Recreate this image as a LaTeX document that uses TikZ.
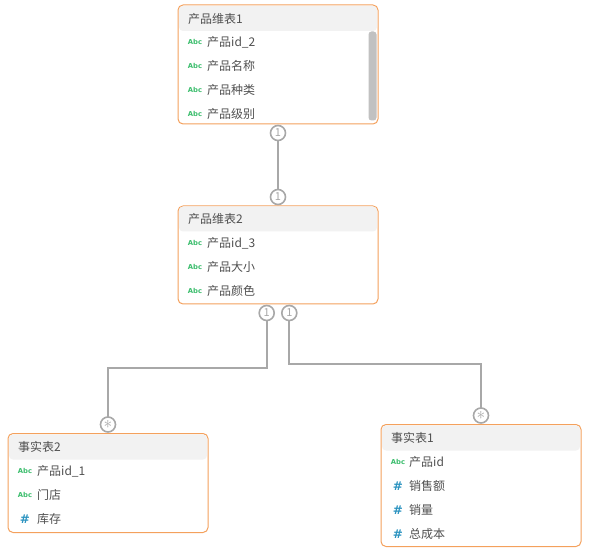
\documentclass[tikz,border=0pt]{standalone}
\usepackage{fontspec}
\setmainfont{Noto Sans CJK SC}
\newfontfamily\iconfont{DejaVu Sans}
\usetikzlibrary{positioning}
\definecolor{tblline}{HTML}{F4A15D}
\definecolor{headfill}{HTML}{F2F2F2}
\definecolor{linkgray}{HTML}{A8A8A8}
\definecolor{txtgray}{HTML}{505050}
\definecolor{abcgreen}{HTML}{3DBE6E}
\definecolor{numblue}{HTML}{2B93C0}
\definecolor{scrollgray}{HTML}{C1C1C1}
\newcommand\abc{\textcolor{abcgreen}{\iconfont\bfseries\fontsize{6.8}{7}\selectfont Abc}}
\newcommand\num{\textcolor{numblue}{\iconfont\bfseries\fontsize{12}{12}\selectfont\#}}
\newcommand\many{{\fontsize{17}{17}\selectfont$\ast$}}
\tikzset{
  tbl/.style={draw=tblline,line width=1pt,fill=white,rounded corners=5pt,minimum width=200pt,inner sep=0pt},
  thead/.style={fill=headfill,rounded corners=4pt,minimum width=198pt,minimum height=25pt,text width=180pt,align=left,inner xsep=9pt,inner ysep=0pt,text=txtgray,font=\fontsize{12}{14}\selectfont},
  ico/.style={inner sep=0pt,anchor=center},
  fld/.style={anchor=west,inner sep=0pt,text=txtgray,font=\fontsize{12}{14}\selectfont},
  scroll/.style={fill=scrollgray,rounded corners=3pt,minimum width=8pt,inner sep=0pt},
  card/.style={circle,draw=linkgray,line width=1.6pt,fill=white,minimum size=15pt,inner sep=0pt,text=linkgray,font=\fontsize{11}{11}\selectfont},
  link/.style={draw=linkgray,line width=1.8pt}
}
\begin{document}
\begin{tikzpicture}[x=1pt,y=-1pt]
  \useasboundingbox (0,0) rectangle (589,553);
  % tables
  \node[tbl,minimum height=119pt] (t1) at (278,64.5) {};
  \node[thead] (t1h) at (278,18.5) {产品维表1};
  \foreach \y/\ic/\t [count=\i] in {42/\abc/产品id\_2,66/\abc/产品名称,90/\abc/产品种类,114/\abc/产品级别}{
    \node[ico] (t1i\i) at (195,\y) {\ic};
    \node[fld] (t1f\i) at (207,\y) {\t};
  }
  \node[scroll,minimum height=89pt] (t1s) at (372.5,76) {};

  \node[tbl,minimum height=98pt] (t2) at (278,255) {};
  \node[thead] (t2h) at (278,219) {产品维表2};
  \foreach \y/\ic/\t [count=\i] in {243/\abc/产品id\_3,267/\abc/产品大小,291/\abc/产品颜色}{
    \node[ico] (t2i\i) at (195,\y) {\ic};
    \node[fld] (t2f\i) at (207,\y) {\t};
  }

  \node[tbl,minimum height=99pt] (t3) at (108,483) {};
  \node[thead] (t3h) at (108,447) {事实表2};
  \foreach \y/\ic/\t [count=\i] in {471/\abc/产品id\_1,495/\abc/门店,519/\num/库存}{
    \node[ico] (t3i\i) at (25,\y) {\ic};
    \node[fld] (t3f\i) at (37,\y) {\t};
  }

  \node[tbl,minimum height=122pt] (t4) at (481,485.5) {};
  \node[thead] (t4h) at (481,438) {事实表1};
  \foreach \y/\ic/\t [count=\i] in {462/\abc/产品id,486/\num/销售额,510/\num/销量,534/\num/总成本}{
    \node[ico] (t4i\i) at (398,\y) {\ic};
    \node[fld] (t4f\i) at (409,\y) {\t};
  }

  % links
  \coordinate (k1) at (266.7,368);
  \coordinate (k2) at (289.3,364);
  \draw[link] (278,133) -- (278,197);
  \draw[link] (266.7,313) -- (k1) -| (108,424.5);
  \draw[link] (289.3,313) -- (k2) -| (481,415.5);
  \node[card] (c1a) at (278,133) {1};
  \node[card] (c1b) at (278,197) {1};
  \node[card] (c2a) at (266.7,313) {1};
  \node[card] (c2b) at (289.3,313) {1};
  \node[card] (c3) at (108,424.5) {\many};
  \node[card] (c4) at (481,415.5) {\many};
\end{tikzpicture}
\end{document}
